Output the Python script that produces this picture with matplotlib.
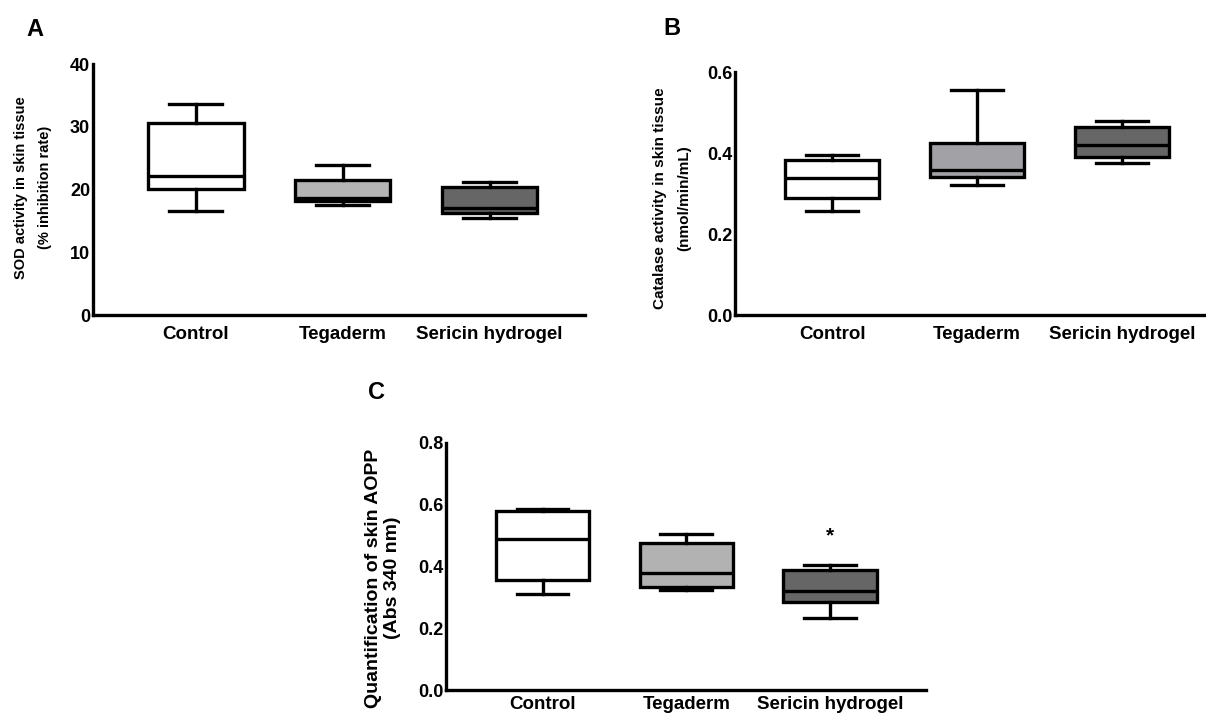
import matplotlib
matplotlib.use("Agg")
import matplotlib.pyplot as plt

plt.rcParams['font.family'] = ['Liberation Sans', 'DejaVu Sans']
plt.rcParams['font.weight'] = 'bold'

categories = ["Control", "Tegaderm", "Sericin hydrogel"]

# five-number summaries: (min, Q1, median, Q3, max)
sod_stats = [(16.6, 20.1, 22.2, 30.6, 33.6),
             (17.5, 18.2, 18.7, 21.5, 24.0),
             (15.5, 16.3, 17.0, 20.5, 21.2)]
cat_stats = [(0.257, 0.288, 0.338, 0.383, 0.395),
             (0.320, 0.342, 0.358, 0.425, 0.555),
             (0.375, 0.390, 0.420, 0.465, 0.480)]
aopp_stats = [(0.310, 0.355, 0.490, 0.580, 0.585),
              (0.325, 0.335, 0.380, 0.475, 0.505),
              (0.235, 0.285, 0.320, 0.390, 0.405)]

colors_A = ["#ffffff", "#b4b4b4", "#666666"]
colors_B = ["#ffffff", "#a2a2a6", "#666666"]
colors_C = ["#ffffff", "#b2b2b2", "#666666"]

sod_ticks = [0, 10, 20, 30, 40]
cat_ticks = [0.0, 0.2, 0.4, 0.6]
aopp_ticks = [0.0, 0.2, 0.4, 0.6, 0.8]

LW = 2.4


def make_stats(stats):
    out = []
    for (mn, q1, med, q3, mx), lab in zip(stats, categories):
        out.append(dict(whislo=mn, q1=q1, med=med, q3=q3, whishi=mx, label=lab))
    return out


def draw(ax, stats, colors, ticks, ylabel, xlim, fmt, ylab_size, ylab_ls,
         ylab_xy, xpad=8):
    bp = ax.bxp(make_stats(stats), positions=[1, 2, 3], widths=0.65,
                showfliers=False, patch_artist=True,
                boxprops=dict(linewidth=LW, edgecolor='black'),
                medianprops=dict(linewidth=LW, color='black'),
                whiskerprops=dict(linewidth=LW, color='black'),
                capprops=dict(linewidth=LW, color='black'),
                capwidths=0.36)
    for patch, c in zip(bp['boxes'], colors):
        patch.set_facecolor(c)
    ax.set_xlim(*xlim)
    ax.set_ylim(ticks[0], ticks[-1])
    ax.set_yticks(ticks)
    ax.set_yticklabels([fmt.format(t) for t in ticks], fontsize=13, fontweight='bold')
    ax.set_xticks([1, 2, 3])
    ax.set_xticklabels(categories, fontsize=13.5, fontweight='bold')
    ax.tick_params(axis='x', length=0, pad=xpad)
    ax.tick_params(axis='y', length=0, pad=2)
    for s in ['top', 'right']:
        ax.spines[s].set_visible(False)
    for s in ['left', 'bottom']:
        ax.spines[s].set_linewidth(LW)
    ax.set_ylabel(ylabel, fontsize=ylab_size, fontweight='bold',
                  linespacing=ylab_ls)
    ax.yaxis.label.set_va('center')
    ax.yaxis.set_label_coords(*ylab_xy)


fig = plt.figure(figsize=(12.06, 7.13), dpi=100)

axA = fig.add_axes([0.0771, 0.558, 0.408, 0.352])
draw(axA, sod_stats, colors_A, sod_ticks,
     "SOD activity in skin tissue\n(% inhibition rate)", (0.3, 3.65), "{:.0f}",
     10.5, 1.9, (-0.122, 0.51))

axB = fig.add_axes([0.6095, 0.558, 0.3905, 0.341])
draw(axB, cat_stats, colors_B, cat_ticks,
     "Catalase activity in skin tissue\n(nmol/min/mL)", (0.33, 3.58), "{:.1f}",
     11, 1.9, (-0.134, 0.48))

axC = fig.add_axes([0.370, 0.032, 0.398, 0.347])
draw(axC, aopp_stats, colors_C, aopp_ticks,
     "Quantification of skin AOPP\n(Abs 340 nm)", (0.33, 3.67), "{:.1f}",
     14, 1.1, (-0.132, 0.453), xpad=4)
axC.text(3, 0.50, "*", ha='center', va='center', fontsize=15, fontweight='bold')

fig.text(0.029, 0.958, "A", fontsize=17, fontweight='bold', ha='center', va='center')
fig.text(0.557, 0.960, "B", fontsize=17, fontweight='bold', ha='center', va='center')
fig.text(0.312, 0.449, "C", fontsize=17, fontweight='bold', ha='center', va='center')

fig.savefig("out.png", dpi=100)
